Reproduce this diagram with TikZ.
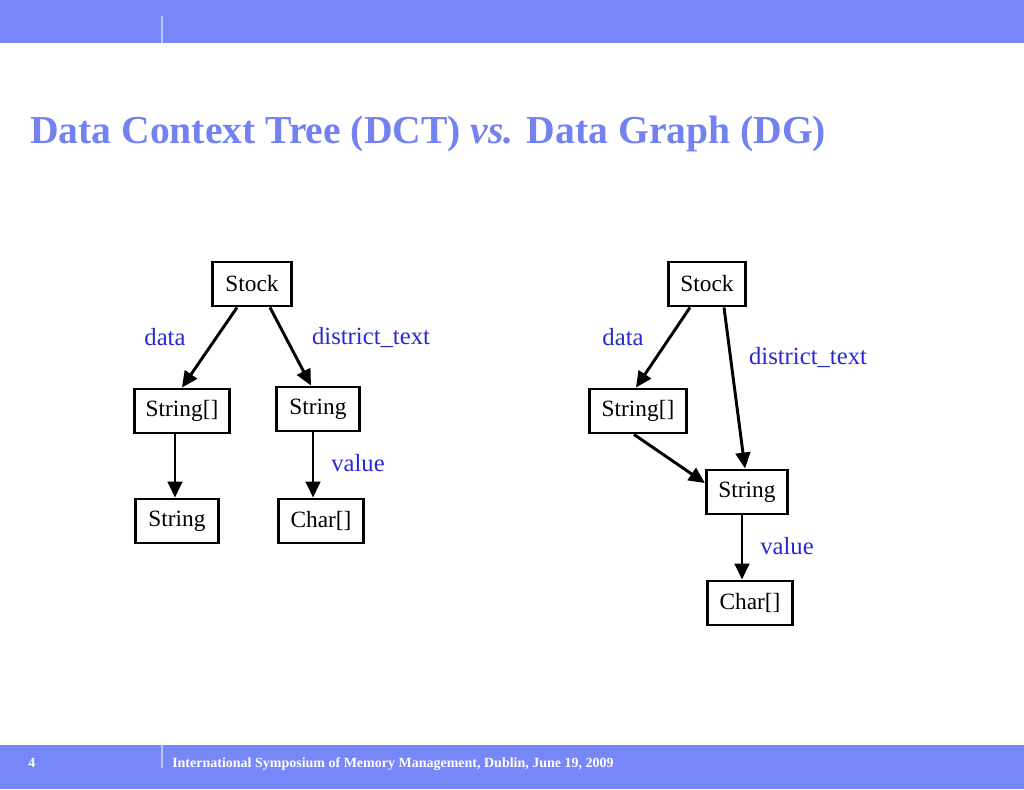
\documentclass[tikz,border=0pt]{standalone}
\usepackage{fontspec}
\setmainfont{Liberation Serif}
\usetikzlibrary{arrows.meta,calc}
\definecolor{barblue}{RGB}{120,135,248}
\definecolor{titleblue}{RGB}{115,130,240}
\definecolor{lblblue}{RGB}{40,40,210}
\definecolor{sepline}{RGB}{185,200,255}
\tikzset{
  box/.style={draw=black,line width=2.2pt,rectangle,minimum height=33pt,inner sep=0pt,font=\fontsize{17.5}{20}\selectfont},
  arr/.style={line width=2.2pt,-{Triangle[length=12pt,width=11pt]}},
  lbl/.style={text=lblblue,font=\fontsize{18.5}{21}\selectfont,inner sep=0pt}
}
\begin{document}
\begin{tikzpicture}[x=0.75pt,y=-0.75pt]
\useasboundingbox (0,0) rectangle (1024,789);
% bars
\fill[barblue] (0,0) rectangle (1024,43);
\fill[barblue] (0,745) rectangle (1024,789);
\coordinate (t1) at (162,16); \coordinate (t2) at (162,43);
\draw[sepline,line width=0.8pt] (t1) -- (t2);
\coordinate (b1) at (162,745); \coordinate (b2) at (162,768);
\draw[sepline,line width=0.8pt] (b1) -- (b2);
% title
\node[anchor=base west,inner sep=0pt,text=titleblue,font=\fontsize{29.7}{36}\selectfont\bfseries] (title) at (30,143) {Data Context Tree (DCT) \textit{vs.} Data Graph (DG)};
% footer
\node[anchor=base west,inner sep=0pt,text=white,font=\fontsize{10.5}{12}\selectfont\bfseries] (pg) at (28,767) {4};
\node[anchor=base west,inner sep=0pt,text=white,font=\fontsize{10.5}{12}\selectfont\bfseries] (foot) at (172,767) {International Symposium of Memory Management, Dublin, June 19, 2009};
% left tree
\node[box,minimum width=59pt] (lstock) at (252,284) {Stock};
\node[box,minimum width=71pt] (lsa) at (182,411) {String[]};
\node[box,minimum width=62pt] (ls) at (318,409) {String};
\node[box,minimum width=62pt] (ls2) at (177,521) {String};
\node[box,minimum width=64pt] (lc) at (321,521) {Char[]};
\draw[arr] ($(lstock.south)+(-15,0)$) -- (lsa.north);
\draw[arr] ($(lstock.south)+(18,0)$) -- ($(ls.north)+(-7,0)$);
\draw[arr] ($(lsa.south)+(-7,0)$) -- ($(ls2.north)+(-2,0)$);
\draw[arr] ($(ls.south)+(-5,0)$) -- ($(lc.north)+(-8,0)$);
\node[lbl] (ldata) at (165,337) {data};
\node[lbl] (ldt) at (371,338) {district\_text};
\node[lbl] (lval) at (358,463) {value};
% right graph
\node[box,minimum width=58pt] (rstock) at (707,284) {Stock};
\node[box,minimum width=73pt] (rsa) at (638,411) {String[]};
\node[box,minimum width=61pt] (rs) at (747,492) {String};
\node[box,minimum width=64pt] (rc) at (750,603) {Char[]};
\draw[arr] ($(rstock.south)+(-17,0)$) -- ($(rsa.north)+(-2,0)$);
\draw[arr] ($(rstock.south)+(17,0)$) -- ($(rs.north)+(-2,0)$);
\draw[arr] ($(rsa.south)+(-4,0)$) -- ($(rs.west)+(0,-9)$);
\draw[arr] ($(rs.south)+(-5,0)$) -- ($(rc.north)+(-8,0)$);
\node[lbl] (rdata) at (623,337) {data};
\node[lbl] (rdt) at (808,358) {district\_text};
\node[lbl] (rval) at (787,546) {value};
\end{tikzpicture}
\end{document}
